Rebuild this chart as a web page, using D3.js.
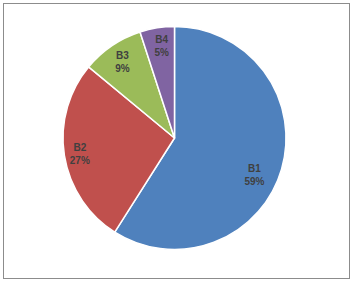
<!DOCTYPE html>
<html><head><meta charset="utf-8">
<script src="https://cdn.jsdelivr.net/npm/d3@7"></script>
<style>body{margin:0;background:#fff;}svg{display:block;}</style>
</head><body>
<svg id="c" width="354" height="282"></svg>
<script>
const categories = ["B1", "B2", "B3", "B4"];
const values = [59, 27, 9, 5];
const colors = ["#4F81BD", "#C0504D", "#9BBB59", "#8064A2"];

const svg = d3.select("#c");
svg.append("rect").attr("x", 3.5).attr("y", 3.5).attr("width", 346).attr("height", 275)
  .attr("fill", "#fff").attr("stroke", "#8c8c8c").attr("stroke-width", 1);

const cx = 174.5, cy = 138, r = 111.5;
const g = svg.append("g").attr("transform", `translate(${cx},${cy})`);
const data = categories.map((c, i) => ({ name: c, value: values[i], color: colors[i] }));
const pie = d3.pie().value(d => d.value).sort(null);
const arcs = pie(data);
const arc = d3.arc().innerRadius(0).outerRadius(r);
g.selectAll("path").data(arcs).join("path")
  .attr("d", arc).attr("fill", d => d.data.color)
  .attr("stroke", "#fff").attr("stroke-width", 1.5).attr("stroke-linejoin", "round");

const total = d3.sum(values);
// label placement: radius fraction and angle nudge (radians) per slice
const labelFrac = [0.79, 0.86, 0.83, 0.84];
const labelNudge = [0.15, 0, 0, 0.02];
arcs.forEach((a, i) => {
  const ang = (a.startAngle + a.endAngle) / 2 + labelNudge[i];
  const lr = r * labelFrac[i];
  const x = lr * Math.sin(ang), y = -lr * Math.cos(ang);
  const t = g.append("text").attr("x", x).attr("y", y)
    .attr("text-anchor", "middle")
    .attr("font-family", "'Liberation Sans', Arial, sans-serif")
    .attr("font-weight", "bold").attr("font-size", 10).attr("fill", "#404040");
  t.append("tspan").attr("x", x).attr("dy", "-0.25em").text(a.data.name);
  t.append("tspan").attr("x", x).attr("dy", "1.3em").text(Math.round(a.data.value / total * 100) + "%");
});
</script>
</body></html>
